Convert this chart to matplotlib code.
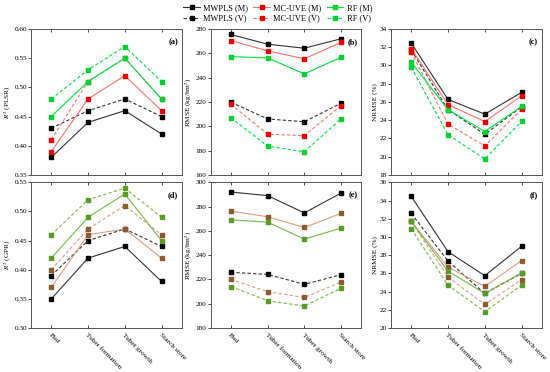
import matplotlib
matplotlib.use('Agg')
import matplotlib.pyplot as plt
from matplotlib.lines import Line2D

plt.rcParams['font.family'] = 'Liberation Serif'
plt.rcParams['mathtext.fontset'] = 'stix'

stages = ['Bud', 'Tuber formation', 'Tuber growth', 'Starch store']

# (a) R2 PLSR
a_mwpls_m = [0.38, 0.44, 0.46, 0.42]
a_mwpls_v = [0.43, 0.46, 0.48, 0.45]
a_mcuve_m = [0.39, 0.48, 0.52, 0.46]
a_mcuve_v = [0.41, 0.51, 0.55, 0.48]
a_rf_m = [0.45, 0.51, 0.55, 0.48]
a_rf_v = [0.48, 0.53, 0.57, 0.51]

# (b) RMSE PLSR
b_mwpls_m = [275.5, 267.5, 264.2, 272.0]
b_mwpls_v = [219.8, 206.0, 203.7, 219.0]
b_mcuve_m = [270.5, 262.0, 255.5, 269.0]
b_mcuve_v = [218.0, 193.5, 192.3, 217.0]
b_rf_m = [257.3, 256.2, 243.1, 256.7]
b_rf_v = [207.0, 183.6, 179.0, 206.0]

# (c) NRMSE PLSR
c_mwpls_m = [32.45, 26.27, 24.66, 27.04]
c_mwpls_v = [31.70, 25.15, 22.45, 25.45]
c_mcuve_m = [31.85, 25.70, 23.85, 26.65]
c_mcuve_v = [31.45, 23.57, 21.16, 25.20]
c_rf_m = [30.36, 25.15, 22.75, 25.50]
c_rf_v = [29.80, 22.40, 19.74, 23.86]

# (d) R2 GPR
d_mwpls_m = [0.35, 0.42, 0.44, 0.38]
d_mwpls_v = [0.39, 0.45, 0.47, 0.44]
d_mcuve_m = [0.37, 0.46, 0.47, 0.42]
d_mcuve_v = [0.40, 0.47, 0.51, 0.46]
d_rf_m = [0.42, 0.49, 0.53, 0.45]
d_rf_v = [0.46, 0.52, 0.54, 0.49]

# (e) RMSE GPR
e_mwpls_m = [292.0, 289.0, 274.8, 291.2]
e_mwpls_v = [225.9, 224.2, 216.0, 224.0]
e_mcuve_m = [276.3, 271.6, 262.8, 274.4]
e_mcuve_v = [220.0, 210.0, 205.2, 218.0]
e_rf_m = [269.1, 267.2, 253.2, 262.3]
e_rf_v = [214.2, 202.5, 198.2, 212.8]

# (f) NRMSE GPR
f_mwpls_m = [34.45, 28.38, 25.75, 28.97]
f_mwpls_v = [32.58, 27.35, 23.80, 26.00]
f_mcuve_m = [31.70, 26.70, 24.58, 27.40]
f_mcuve_v = [31.70, 25.60, 22.60, 25.30]
f_rf_m = [31.70, 26.25, 23.80, 26.05]
f_rf_v = [30.90, 24.70, 21.80, 24.70]

panels = [
    ('(a)', '$R^2$ (PLSR)', (0.35, 0.60, 0.05), '{:.2f}',
     [a_mwpls_m, a_mwpls_v, a_mcuve_m, a_mcuve_v, a_rf_m, a_rf_v]),
    ('(b)', 'RMSE (kg/hm$^2$)', (160, 280, 20), '{:.0f}',
     [b_mwpls_m, b_mwpls_v, b_mcuve_m, b_mcuve_v, b_rf_m, b_rf_v]),
    ('(c)', 'NRMSE (%)', (18, 34, 2), '{:.0f}',
     [c_mwpls_m, c_mwpls_v, c_mcuve_m, c_mcuve_v, c_rf_m, c_rf_v]),
    ('(d)', '$R^2$ (GPR)', (0.30, 0.55, 0.05), '{:.2f}',
     [d_mwpls_m, d_mwpls_v, d_mcuve_m, d_mcuve_v, d_rf_m, d_rf_v]),
    ('(e)', 'RMSE (kg/hm$^2$)', (180, 300, 20), '{:.0f}',
     [e_mwpls_m, e_mwpls_v, e_mcuve_m, e_mcuve_v, e_rf_m, e_rf_v]),
    ('(f)', 'NRMSE (%)', (20, 36, 2), '{:.0f}',
     [f_mwpls_m, f_mwpls_v, f_mcuve_m, f_mcuve_v, f_rf_m, f_rf_v]),
]

labels = ['MWPLS (M)', 'MWPLS (V)', 'MC-UVE (M)', 'MC-UVE (V)', 'RF (M)', 'RF (V)']
# line colour / marker colour, top row and bottom row
top_cols = [('#333333', '#000000'), ('#333333', '#000000'),
            ('#ff7070', '#ee0000'), ('#ff7070', '#ee0000'),
            ('#00e040', '#00d030'), ('#00e040', '#00d030')]
bot_cols = [('#333333', '#000000'), ('#333333', '#000000'),
            ('#d8a080', '#8a5a30'), ('#d8a080', '#8a5a30'),
            ('#78b848', '#5a9a28'), ('#78b848', '#5a9a28')]
styles = ['-', (0, (3, 2)), '-', (0, (3, 2)), '-', (0, (3, 2))]

fig = plt.figure(figsize=(5.5, 3.72), dpi=100)
lefts = [0.0565, 0.383, 0.711]
w = 0.274
bottoms = [0.530, 0.118]
h = 0.392

x = range(len(stages))
for i, (tag, ylab, (lo, hi, st), fmt, series) in enumerate(panels):
    row, col = divmod(i, 3)
    ax = fig.add_axes([lefts[col], bottoms[row], w, h])
    cols = top_cols if row == 0 else bot_cols
    for s, (lc, mc), ls in zip(series, cols, styles):
        ax.plot(x, s, color=lc, ls=ls, lw=0.8, marker='s', ms=2.2,
                mfc=mc, mec=mc)
    ax.set_xlim(-0.55, 3.55)
    ax.set_ylim(lo, hi)
    n = int(round((hi - lo) / st))
    ticks = [lo + k * st for k in range(n + 1)]
    ax.set_yticks(ticks)
    ax.set_yticklabels([fmt.format(t) for t in ticks], fontsize=5.2)
    ax.set_xticks(list(x))
    if row == 1:
        ax.set_xticklabels(stages, rotation=-45, ha='left', va='top',
                           rotation_mode='anchor', fontsize=5.3)
    else:
        ax.set_xticklabels([])
    ax.tick_params(axis='x', direction='in', top=True, length=2, width=0.5, pad=3)
    ax.tick_params(axis='y', direction='out', length=2, width=0.5, pad=1)
    ax.set_ylabel(ylab, fontsize=5.2, labelpad=1)
    for sp in ax.spines.values():
        sp.set_color('#555555')
        sp.set_linewidth(0.7)
    ax.text(0.975, 0.91, tag, transform=ax.transAxes, ha='right', va='center',
            fontsize=6, fontweight='bold')

handles = []
for lab, (lc, mc), ls in zip(labels, top_cols, styles):
    handles.append(Line2D([], [], color=lc, ls=ls, lw=0.8, marker='s', ms=2.2,
                          mfc=mc, mec=mc, label=lab))
fig.legend(handles=handles, loc='upper center', bbox_to_anchor=(0.505, 1.005),
           ncol=3, frameon=False, fontsize=6, handlelength=2.0, handletextpad=0.4,
           columnspacing=0.6, labelspacing=0.3, borderpad=0.2)

fig.savefig('out.png', dpi=100)
